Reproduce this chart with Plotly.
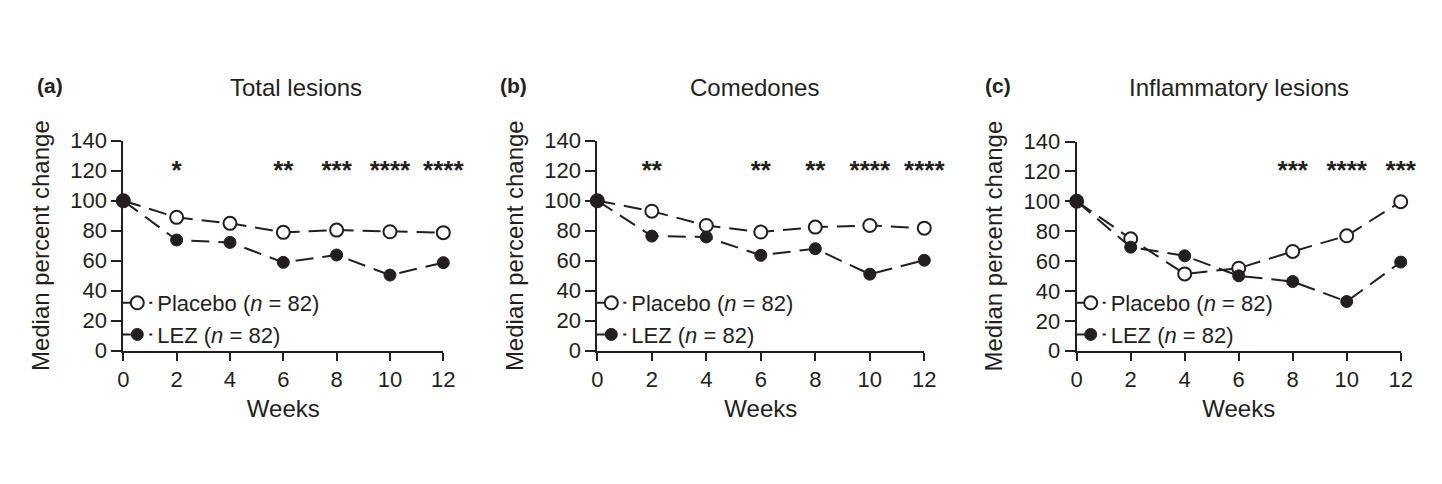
import plotly.graph_objects as go

weeks = [0, 2, 4, 6, 8, 10, 12]

total_placebo = [100, 88.9, 84.9, 78.9, 80.4, 79.3, 78.7]
total_lez = [100, 73.8, 72.2, 58.9, 63.8, 50.4, 58.7]
comed_placebo = [100, 93.0, 83.5, 79.1, 82.4, 83.5, 81.7]
comed_lez = [100, 76.4, 75.8, 63.6, 68.0, 51.0, 60.3]
infl_placebo = [100, 74.9, 51.4, 55.2, 66.4, 76.9, 99.7]
infl_lez = [100, 69.3, 63.5, 50.1, 46.3, 32.9, 59.3]

total_sig = ["", "*", "", "**", "***", "****", "****"]
comed_sig = ["", "**", "", "**", "**", "****", "****"]
infl_sig = ["", "", "", "", "***", "****", "***"]
sig_level = 119

panel_letters = ["(a)", "(b)", "(c)"]
panel_titles = ["Total lesions", "Comedones", "Inflammatory lesions"]
y_ticks = [0, 20, 40, 60, 80, 100, 120, 140]
x_ticks = [0, 2, 4, 6, 8, 10, 12]

W, H = 1442, 484
INK = "#231f20"
FONT = "Liberation Sans, Arial, sans-serif"

# pixel layout of each plot area: (left, right, top, bottom)
areas = [(123.3, 443.3, 140.7, 350.7),
         (597.3, 924.3, 140.7, 350.7),
         (1076.7, 1400.7, 141.5, 350.7)]
letter_dx = [-88, -99, -94]
title_dx = [13, -6, 0]

series = [(total_placebo, total_lez, total_sig),
          (comed_placebo, comed_lez, comed_sig),
          (infl_placebo, infl_lez, infl_sig)]

fig = go.Figure()
layout = dict(width=W, height=H, autosize=False, margin=dict(l=0, r=0, t=0, b=0, pad=0),
              paper_bgcolor="white", plot_bgcolor="white", showlegend=True,
              font=dict(family=FONT, color=INK, size=22))
annotations = []

for i, ((plc, lez, sig), (l, r, t, b)) in enumerate(zip(series, areas)):
    n = "" if i == 0 else str(i + 1)
    xa, ya = "x" + n, "y" + n
    leg = "legend" + n
    dash = "18px,9px"
    fig.add_trace(go.Scatter(
        x=weeks, y=plc, xaxis=xa, yaxis=ya, mode="lines+markers",
        name="Placebo (<i>n</i> = 82)", legend=leg, legendgroup="p" + n,
        line=dict(color=INK, width=2, dash=dash),
        marker=dict(symbol="circle", size=13, color="white", line=dict(color=INK, width=2)),
        cliponaxis=False))
    fig.add_trace(go.Scatter(
        x=weeks, y=lez, xaxis=xa, yaxis=ya, mode="lines+markers",
        name="LEZ (<i>n</i> = 82)", legend=leg, legendgroup="l" + n,
        line=dict(color=INK, width=2, dash=dash),
        marker=dict(symbol="circle", size=12, color=INK, line=dict(color=INK, width=1)),
        cliponaxis=False))
    fig.add_trace(go.Scatter(
        x=weeks, y=[sig_level] * len(weeks), text=sig, xaxis=xa, yaxis=ya, mode="text",
        textfont=dict(family=FONT, size=26, color=INK, weight="bold"), showlegend=False,
        hoverinfo="skip", cliponaxis=False))

    axis_common = dict(showline=True, linecolor=INK, linewidth=2, showgrid=False,
                       zeroline=False, ticks="outside", tickcolor=INK, tickwidth=2,
                       automargin=False,
                       tickfont=dict(family=FONT, size=22, color=INK))
    layout["xaxis" + n] = dict(axis_common, domain=[l / W, r / W], anchor=ya,
                               range=[0, 12], tickvals=x_ticks, ticklen=8,
                               title=dict(text="Weeks", font=dict(size=24), standoff=9))
    layout["yaxis" + n] = dict(axis_common, domain=[1 - b / H, 1 - t / H], anchor=xa,
                               range=[0, 140], tickvals=y_ticks, ticklen=10,
                               title=dict(text="Median percent change", font=dict(size=24), standoff=14))
    layout[leg] = dict(x=(l - 6) / W, y=1 - 282 / H, xanchor="left", yanchor="top",
                       bgcolor="rgba(0,0,0,0)", font=dict(family=FONT, size=22, color=INK),
                       traceorder="grouped", tracegroupgap=0, itemwidth=30)
    annotations.append(dict(text="<b>" + panel_letters[i] + "</b>", xref="paper", yref="paper",
                            x=(l + letter_dx[i]) / W, y=1 - 85 / H, xanchor="left", yanchor="middle",
                            showarrow=False, font=dict(family=FONT, size=21, color=INK)))
    annotations.append(dict(text=panel_titles[i], xref="paper", yref="paper",
                            x=((l + r) / 2 + title_dx[i]) / W, y=1 - 87 / H, xanchor="center",
                            yanchor="middle", showarrow=False,
                            font=dict(family=FONT, size=24, color=INK)))

layout["annotations"] = annotations
fig.update_layout(**layout)
fig.write_html("out.html")
